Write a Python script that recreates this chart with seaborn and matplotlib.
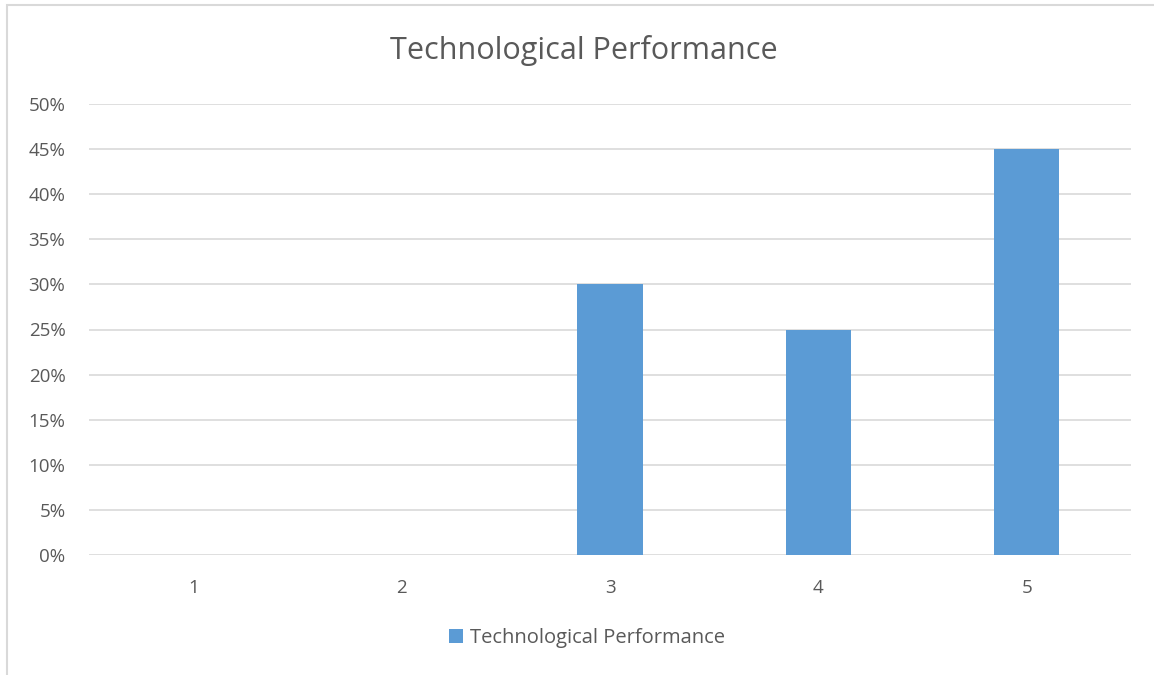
import matplotlib
matplotlib.use("Agg")
import matplotlib.pyplot as plt
import seaborn as sns
import pandas as pd
from matplotlib.patches import Rectangle, Patch
from matplotlib.ticker import FuncFormatter

categories = ["1", "2", "3", "4", "5"]
values = [0.0, 0.0, 0.30, 0.25, 0.45]
series_name = "Technological Performance"
title = "Technological Performance"

sns.set_theme(style="white")
plt.rcParams['font.family'] = ['Open Sans', 'DejaVu Sans']

df = pd.DataFrame({"cat": categories, "val": values})

fig = plt.figure(figsize=(11.54, 6.75), dpi=100)
ax = fig.add_axes([89/1154, 1-555/675, (1131-89)/1154, (555-104)/675])

sns.barplot(data=df, x="cat", y="val", color="#5B9BD5", width=0.312, ax=ax,
            saturation=1, zorder=3, linewidth=0, edgecolor="none")

ax.set_ylim(0, 0.5)
ax.set_yticks([i*0.05 for i in range(11)])
ax.yaxis.set_major_formatter(FuncFormatter(lambda v, p: f"{round(v*100)}%"))
ax.grid(axis="y", color="#D9D9D9", linewidth=1.2, zorder=0)
ax.set_axisbelow(True)
for s in ax.spines.values():
    s.set_visible(False)
ax.set_xlabel("")
ax.set_ylabel("")
ax.tick_params(axis="both", length=0, labelsize=13.5, labelcolor="#595959")
ax.tick_params(axis="y", pad=17)
ax.tick_params(axis="x", pad=17)

fig.text(584/1154, 1-50/675, title, ha="center", va="center", fontsize=22, color="#595959")

handles = [Patch(facecolor="#5B9BD5", edgecolor="none", label=series_name)]
fig.legend(handles=handles, loc="center", bbox_to_anchor=(587/1154, 1-638/675),
           frameon=False, fontsize=14.5, labelcolor="#595959",
           handlelength=0.65, handleheight=0.65, handletextpad=0.35)

fig.patches.append(Rectangle((7/1154, -0.1), 1.2, 1-5/675+0.1, transform=fig.transFigure,
                             fill=False, edgecolor="#D9D9D9", linewidth=1.5))

fig.savefig("out.png", dpi=100)
